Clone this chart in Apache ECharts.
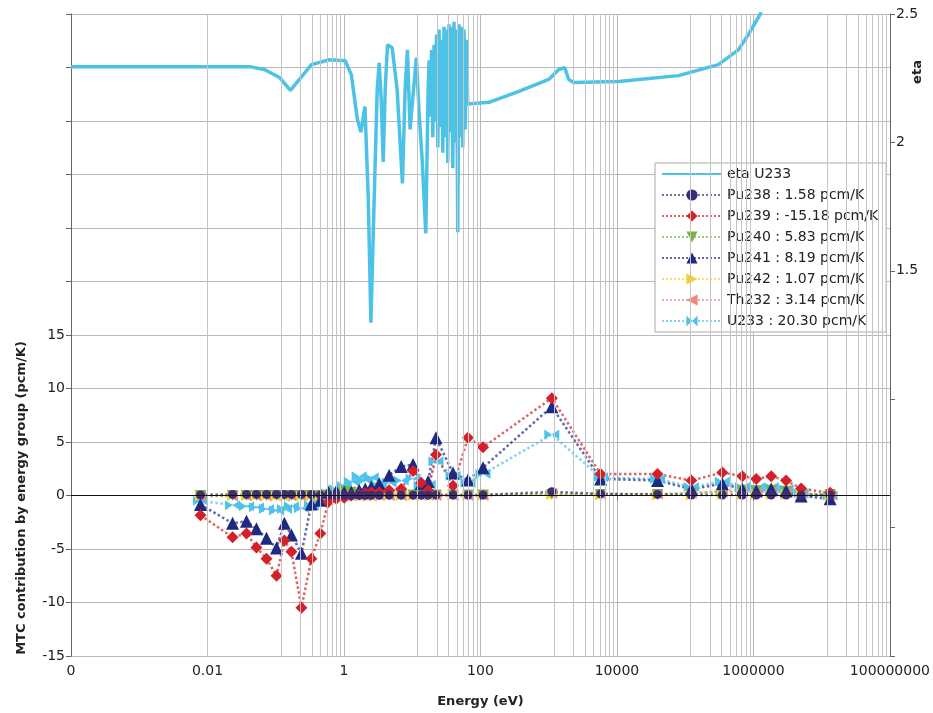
<!DOCTYPE html>
<html>
<head>
<meta charset="utf-8">
<script src="https://cdn.jsdelivr.net/npm/echarts@6/dist/echarts.min.js"></script>
<style>
  html, body { margin: 0; padding: 0; background: #ffffff; }
  #chart { width: 933px; height: 713px; }
</style>
</head>
<body>
<div id="chart"></div>
<script>
// Energy axis: major ticks every two decades
const energyTicks = [0.0001, 0.01, 1, 100, 10000, 1000000, 100000000];
const energyTickLabels = ['0', '0.01', '1', '100', '10000', '1000000', '100000000'];

// Energy groups (eV) where the MTC contributions are tallied
const groupEnergy = [
  0.0079, 0.0233, 0.0373, 0.0522, 0.0733, 0.1026, 0.134, 0.170, 0.238, 0.333, 0.451,
  0.590, 0.773, 1.01, 1.28, 1.67, 2.05, 2.51, 3.28, 4.59, 6.89, 10.3, 13.5, 17.1, 22.3, 39.6, 65.6, 109,
  1110, 5770, 39300, 123000, 350000, 686000, 1100000, 1820000, 3010000, 5000000, 13300000
];

// MTC contribution by energy group (pcm/K)
const pu238 = [
  0.05, 0.1, 0.1, 0.1, 0.1, 0.1, 0.1, 0.1, 0.1, 0.1, 0.05,
  0.05, 0.02, 0.02, 0.02, 0.02, 0.02, 0.02, 0.02, 0.03, 0.03, 0.03, 0.03, 0.03, 0.05, 0.05, 0.05, 0.05,
  0.35, 0.15, 0.1, 0.05, 0.05, 0.05, 0.05, 0.05, 0.05, 0.03, 0.02
];
const pu239 = [
  -1.85, -3.9, -3.55, -4.85, -5.9, -7.5, -4.2, -5.25, -10.5, -5.9, -3.55,
  -0.6, -0.3, -0.2, 0.0, 0.1, 0.2, 0.3, 0.3, 0.5, 0.6, 2.3, 1.2, 0.5, 3.8, 0.9, 5.4, 4.5,
  9.1, 2.0, 2.0, 1.4, 2.15, 1.8, 1.55, 1.8, 1.4, 0.65, 0.25
];
const pu240 = [
  0, 0, 0, 0, 0, 0, 0, 0, 0, 0, 0,
  0.05, 0.1, 0.4, 0.3, 0.1, 0.05, 0.05, 0.05, 0.05, 0.05, 0.05, 0.05, 0.05, 0.05, 0.05, 0.05, 0.05,
  0.1, 0.1, 0.1, 0.2, 0.4, 0.5, 0.45, 0.5, 0.4, 0.2, 0.1
];
const pu241 = [
  -0.85, -2.6, -2.4, -3.1, -4.0, -4.9, -2.6, -3.7, -5.4, -0.8, -0.45,
  0.3, 0.4, 0.3, 0.3, 0.5, 0.6, 0.8, 1.1, 1.9, 2.7, 2.9, 1.1, 1.3, 5.4, 2.1, 1.45, 2.6,
  8.3, 1.55, 1.4, 0.6, 1.1, 0.6, 0.45, 0.6, 0.45, -0.05, -0.3
];
const pu242 = [
  0, 0, 0, 0, 0, 0, 0, 0, 0, 0, 0,
  0, 0, 0, 0, 0, 0, 0, 0, 0, 0, 0, 0.05, 0.05, 0.05, 0.05, 0.05, 0.05,
  0.1, 0.05, 0.05, 0.05, 0.1, 0.1, 0.1, 0.1, 0.1, 0.05, 0.05
];
const th232 = [
  -0.05, -0.05, -0.05, -0.05, -0.05, -0.05, -0.05, -0.05, -0.05, -0.05, -0.05,
  -0.05, -0.05, -0.05, -0.05, -0.05, -0.05, -0.05, 0, 0, 0, 0, 0, 0, 0, 0, 0, 0,
  0.2, 0.15, 0.15, 0.2, 0.3, 0.3, 0.3, 0.3, 0.25, 0.15, 0.05
];
const u233 = [
  -0.5, -0.9, -1.0, -1.1, -1.25, -1.4, -1.25, -1.0, -1.2, -0.9, -0.5,
  0.2, 0.6, 0.9, 1.3, 1.8, 1.4, 1.7, 0.9, 1.2, 1.4, 1.6, 0.9, 1.0, 3.2, 1.85, 1.2, 2.0,
  5.7, 1.7, 1.55, 0.8, 1.3, 0.8, 0.7, 0.8, 0.6, 0.2, 0.0
];

// eta of U233 versus energy (secondary axis)
const etaEnergy = [
  0.0001, 0.0413, 0.0684, 0.1135, 0.164, 0.222, 0.333, 0.610, 1.045, 1.28, 1.57, 1.77, 2.03, 2.27,
  2.48, 2.77, 3.07, 3.28, 3.51, 3.76, 4.02, 4.34, 5.08, 6.01, 7.19, 7.87, 8.51, 9.31, 10.3, 11.5,
  12.6, 13.96, 15.8, 17.1,
  17.66, 18.42, 19.21, 20.04, 20.90, 21.80, 22.73, 23.71, 24.73, 25.79, 26.90, 28.05, 29.26, 30.51,
  31.82, 33.19, 34.62, 36.11, 37.66, 39.28, 40.97, 42.73, 44.57, 46.48, 48.48, 50.56, 52.74, 55.00,
  57.37, 59.84, 62.41, 65.09,
  133, 365, 1002, 1403, 1718, 1964, 2324, 10570, 79600, 306000, 600000, 840000, 1260000, 1500000
];
const etaU233 = [
  2.295, 2.295, 2.284, 2.253, 2.203, 2.245, 2.303, 2.322, 2.318, 2.264, 2.09, 2.04, 2.14, 1.78,
  1.298, 1.78, 2.206, 2.31, 2.17, 1.924, 2.206, 2.38, 2.369, 2.206, 1.84, 2.206, 2.36, 2.05, 2.187, 2.33,
  2.117, 1.936, 1.646, 2.20,
  2.32, 2.10, 2.36, 2.02, 2.38, 2.08, 2.42, 1.98, 2.44, 2.06, 2.40, 1.96, 2.45, 2.02,
  2.44, 1.92, 2.46, 2.04, 2.45, 1.90, 2.47, 2.00, 2.44, 1.65, 2.46, 2.02, 2.45, 1.98,
  2.44, 2.05, 2.40, 2.15,
  2.156, 2.199, 2.245, 2.284, 2.291, 2.245, 2.233, 2.237, 2.26, 2.303, 2.36, 2.419, 2.5, 2.56
];

// Minor energy gridlines: nine equal steps between consecutive major ticks
const minorGridEnergy = [];
for (let i = 0; i < energyTicks.length - 1; i++) {
  const lo = energyTicks[i], hi = energyTicks[i + 1];
  for (let k = 1; k < 9; k++) minorGridEnergy.push(lo + k * (hi - lo) / 9);
}

const FONT = 'DejaVu Sans';
const diamond = 'path://M5,0 L10,5 L5,10 L0,5 Z';
const bowtie = 'path://M0,0 L10,5 L0,10 Z M20,0 L10,5 L20,10 Z';

function mtcSeries(name, values, color, symbol, size, rotate) {
  return {
    name: name,
    type: 'line',
    xAxisIndex: 0,
    yAxisIndex: 0,
    data: groupEnergy.map((e, i) => [e, values[i]]),
    symbol: symbol,
    symbolSize: size,
    symbolRotate: rotate || 0,
    showAllSymbol: true,
    lineStyle: { color: color, width: 2.5, type: 'dotted', opacity: 0.7 },
    itemStyle: { color: color, opacity: 1 },
    emphasis: { disabled: true },
    z: 3
  };
}

const legendNames = [
  { name: 'eta U233', itemStyle: { color: 'rgba(0,0,0,0)', borderWidth: 0 } },
  'Pu238 : 1.58 pcm/K',
  'Pu239 : -15.18 pcm/K',
  'Pu240 : 5.83 pcm/K',
  'Pu241 : 8.19 pcm/K',
  'Pu242 : 1.07 pcm/K',
  'Th232 : 3.14 pcm/K',
  'U233 : 20.30 pcm/K'
];

const chart = echarts.init(document.getElementById('chart'), null, { renderer: 'canvas' });

chart.setOption({
  animation: false,
  backgroundColor: '#ffffff',
  textStyle: { fontFamily: FONT },
  grid: { left: 71, right: 41, top: 14, bottom: 52, containLabel: false },
  legend: {
    data: legendNames,
    orient: 'vertical',
    left: 655,
    top: 163,
    itemWidth: 60,
    itemHeight: 14,
    itemGap: 7,
    padding: [4, 8, 4, 6],
    backgroundColor: '#ffffff',
    borderColor: '#a8a8a8',
    borderWidth: 1,
    textStyle: { fontFamily: FONT, fontSize: 14, color: '#222' },
    selectedMode: false
  },
  xAxis: {
    type: 'log',
    logBase: 100,
    min: 0.0001,
    max: 100000000,
    name: 'Energy (eV)',
    nameLocation: 'middle',
    nameGap: 39,
    nameTextStyle: { fontFamily: FONT, fontWeight: 'bold', fontSize: 13, color: '#222' },
    axisLine: { show: true, lineStyle: { color: '#666', width: 1 } },
    axisTick: { show: true, length: 5, lineStyle: { color: '#666' } },
    axisLabel: {
      fontFamily: FONT, fontSize: 14, color: '#222', margin: 8,
      formatter: function (v) {
        const i = Math.round(Math.log10(v) / 2) + 2;
        return energyTickLabels[i] !== undefined ? energyTickLabels[i] : '';
      }
    },
    splitLine: { show: true, lineStyle: { color: '#b8b8b8', width: 1 } }
  },
  yAxis: [
    {
      type: 'value',
      min: -15,
      max: 45,
      interval: 5,
      position: 'left',
      axisLine: { show: true, lineStyle: { color: '#666', width: 1 } },
      axisTick: { show: true, length: 5, lineStyle: { color: '#666' } },
      axisLabel: {
        fontFamily: FONT, fontSize: 14, color: '#222', margin: 6,
        formatter: function (v) { return v > 15 ? '' : String(v); }
      },
      splitLine: { show: true, lineStyle: { color: '#b8b8b8', width: 1 } }
    },
    {
      type: 'value',
      min: 0,
      max: 2.5,
      interval: 0.5,
      position: 'right',
      axisLine: { show: true, lineStyle: { color: '#666', width: 1 } },
      axisTick: { show: true, length: 5, lineStyle: { color: '#666' } },
      axisLabel: {
        fontFamily: FONT, fontSize: 14, color: '#222', margin: 6,
        formatter: function (v) { return v >= 1.5 ? String(v) : ''; }
      },
      splitLine: { show: false }
    }
  ],
  graphic: [
    {
      type: 'text',
      x: 22, y: 498,
      rotation: Math.PI / 2,
      style: {
        text: 'MTC contribution by energy group (pcm/K)',
        fontFamily: FONT, fontWeight: 'bold', fontSize: 13, fill: '#222',
        align: 'center', verticalAlign: 'middle'
      }
    },
    {
      type: 'text',
      x: 918, y: 72,
      rotation: Math.PI / 2,
      style: {
        text: 'eta',
        fontFamily: FONT, fontWeight: 'bold', fontSize: 13, fill: '#222',
        align: 'center', verticalAlign: 'middle'
      }
    }
  ],
  series: [
    {
      name: 'gridlines',
      type: 'line',
      data: [],
      silent: true,
      z: 1,
      markLine: {
        silent: true,
        symbol: ['none', 'none'],
        label: { show: false },
        animation: false,
        lineStyle: { color: '#c4c4c4', width: 1, type: 'solid' },
        data: minorGridEnergy.map(v => ({ xAxis: v })).concat([
          { yAxis: 0, lineStyle: { color: '#111', width: 1, type: 'solid' } }
        ])
      }
    },
    {
      name: 'eta U233',
      type: 'line',
      xAxisIndex: 0,
      yAxisIndex: 1,
      data: etaEnergy.map((e, i) => [e, etaU233[i]]),
      symbol: 'none',
      showSymbol: false,
      clip: true,
      lineStyle: { color: '#4cc3e6', width: 3.5 },
      itemStyle: { color: '#4cc3e6' },
      emphasis: { disabled: true },
      z: 2
    },
    mtcSeries('U233 : 20.30 pcm/K', u233, '#4ec2ea', bowtie, [15, 10], 0),
    mtcSeries('Th232 : 3.14 pcm/K', th232, '#f1877f', 'triangle', 11, 90),
    mtcSeries('Pu242 : 1.07 pcm/K', pu242, '#f3d226', 'triangle', 11, -90),
    mtcSeries('Pu240 : 5.83 pcm/K', pu240, '#76b447', 'triangle', 11, 180),
    mtcSeries('Pu241 : 8.19 pcm/K', pu241, '#1e2a82', 'triangle', 13, 0),
    mtcSeries('Pu239 : -15.18 pcm/K', pu239, '#d42029', diamond, 12, 0),
    mtcSeries('Pu238 : 1.58 pcm/K', pu238, '#3d2c78', 'circle', 9, 0)
  ]
});
</script>
</body>
</html>
